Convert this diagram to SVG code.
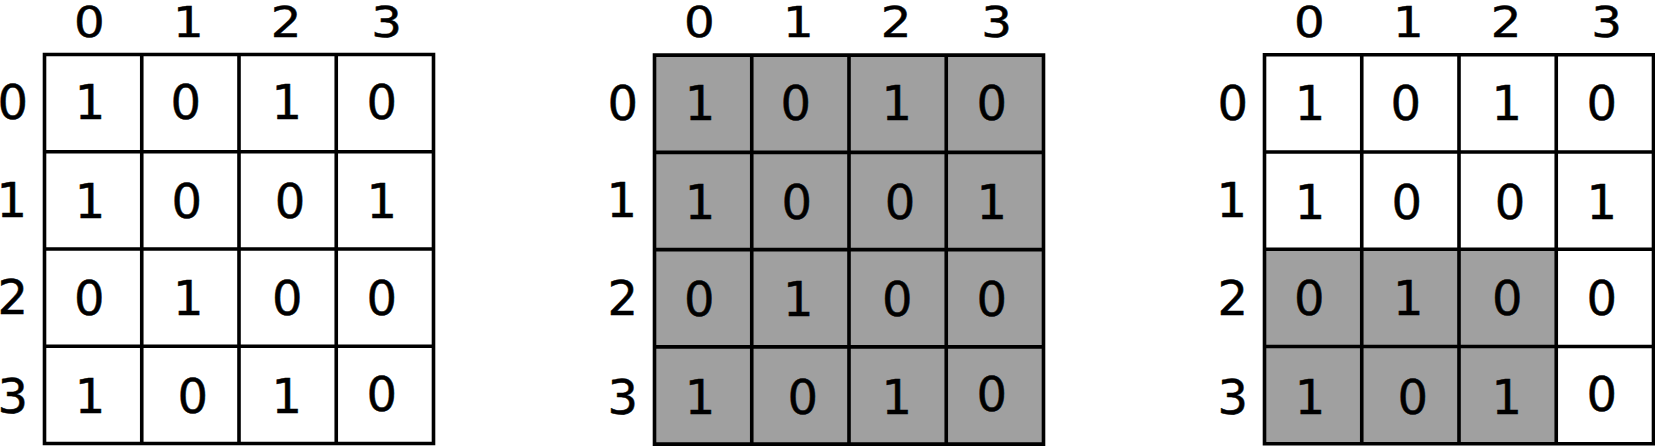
<svg xmlns="http://www.w3.org/2000/svg" width="1655" height="447" viewBox="0 0 1655 447">
<defs>
<style>
.bg{fill:#ffffff}
.cell{fill:#ffffff;stroke:none}
.sh{fill:#a0a0a0;stroke:none}
.ln{stroke:#000000;stroke-width:3.6;fill:none;stroke-linecap:square}
.t{font-family:"DejaVu Sans",Verdana,sans-serif;font-size:48px;fill:#000000;stroke:#000000;stroke-width:0.5;text-anchor:middle}
.h{font-family:"DejaVu Sans",Verdana,sans-serif;font-size:42px;fill:#000000;stroke:#000000;stroke-width:0.5;text-anchor:middle}
</style>
<g id="gridlines">
<path class="ln" d="M44.5,54.5H433.5V443.5H44.5Z M141.75,54.5V443.5 M239,54.5V443.5 M336.25,54.5V443.5 M44.5,151.75H433.5 M44.5,249H433.5 M44.5,346.25H433.5"/>
</g>
<g id="labels">
<text class="h" transform="translate(89.3,36.7) scale(1.15,1)">0</text>
<text class="h" transform="translate(188.3,36.7) scale(1.15,1)">1</text>
<text class="h" transform="translate(286,36.7) scale(1.15,1)">2</text>
<text class="h" transform="translate(386.7,36.7) scale(1.15,1)">3</text>
<text class="t" x="12.7" y="119.3">0</text>
<text class="t" x="11.7" y="216.7">1</text>
<text class="t" x="12.7" y="314.3">2</text>
<text class="t" x="12.7" y="413.3">3</text>
</g>
<g id="values">
<text class="t" x="90" y="119.3">1</text>
<text class="t" x="185.7" y="119.3">0</text>
<text class="t" x="286.7" y="119.3">1</text>
<text class="t" x="381.7" y="119.3">0</text>
<text class="t" x="90" y="218.3">1</text>
<text class="t" x="186.7" y="218.3">0</text>
<text class="t" x="290" y="218.3">0</text>
<text class="t" x="381.7" y="218.3">1</text>
<text class="t" x="89.3" y="315">0</text>
<text class="t" x="188.3" y="315">1</text>
<text class="t" x="287.3" y="315">0</text>
<text class="t" x="381.7" y="315">0</text>
<text class="t" x="90" y="413.3">1</text>
<text class="t" x="192.7" y="413.3">0</text>
<text class="t" x="286.7" y="413.3">1</text>
<text class="t" x="381.7" y="410.7">0</text>
</g>
</defs>
<rect class="bg" x="0" y="0" width="1655" height="447"/>
<g id="matrix-a">
<rect class="cell" x="44.5" y="54.5" width="389" height="389"/>
<use href="#labels"/>
<use href="#values"/>
<use href="#gridlines"/>
</g>
<g id="matrix-b" transform="translate(610,0.6)">
<rect class="sh" x="44.5" y="54.5" width="389" height="389"/>
<use href="#labels"/>
<use href="#values"/>
<use href="#gridlines"/>
</g>
<g id="matrix-c" transform="translate(1220,0.3)">
<rect class="cell" x="44.5" y="54.5" width="389" height="389"/>
<rect class="sh" x="44.5" y="249" width="291.75" height="194.5"/>
<use href="#labels"/>
<use href="#values"/>
<use href="#gridlines"/>
</g>
</svg>
